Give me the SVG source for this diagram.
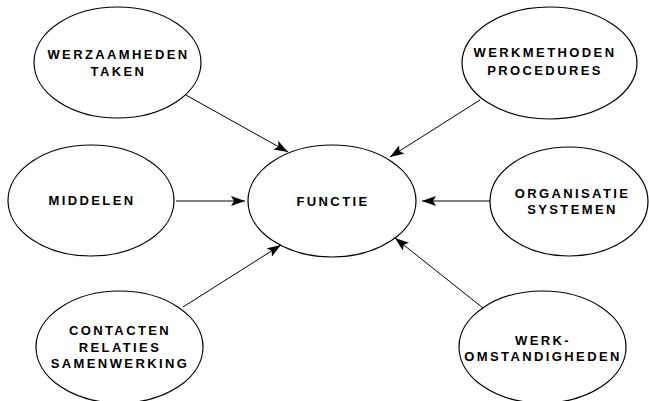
<svg xmlns="http://www.w3.org/2000/svg" width="649" height="401" viewBox="0 0 649 401">
<defs>
<marker id="ah" viewBox="0 0 14 10" refX="14" refY="5" markerWidth="14" markerHeight="10" markerUnits="userSpaceOnUse" orient="auto">
<path d="M0,0 L14,5 L0,10 L3,5 Z" fill="#000"/>
</marker>
<style>
.n ellipse{fill:#fff;stroke:#000;stroke-width:1.2}
.n text{font-family:"Liberation Sans",Arial,sans-serif;font-weight:bold;font-size:13px;letter-spacing:2.4px;text-anchor:middle;fill:#000}
.c line{stroke:#000;stroke-width:1;marker-end:url(#ah)}
</style>
</defs>
<rect width="649" height="401" fill="#fff"/>
<g class="c" id="connectors">
<line x1="184" y1="94" x2="288" y2="152"/>
<line x1="480" y1="100" x2="390" y2="157"/>
<line x1="176" y1="201" x2="245" y2="201"/>
<line x1="490" y1="201" x2="422" y2="201"/>
<line x1="183" y1="307" x2="281" y2="245"/>
<line x1="483" y1="308" x2="395" y2="238"/>
</g>
<g class="n" id="werzaamheden">
<ellipse cx="117.5" cy="62.5" rx="83.5" ry="55.5"/>
<text x="118.5" y="58.5">WERZAAMHEDEN</text>
<text x="118.5" y="75.5">TAKEN</text>
</g>
<g class="n" id="werkmethoden">
<ellipse cx="549.5" cy="63" rx="87.5" ry="56"/>
<text x="545" y="57">WERKMETHODEN</text>
<text x="545" y="75">PROCEDURES</text>
</g>
<g class="n" id="middelen">
<ellipse cx="91" cy="200.5" rx="83" ry="55.5"/>
<text x="92" y="205">MIDDELEN</text>
</g>
<g class="n" id="functie">
<ellipse cx="332" cy="201" rx="84" ry="56"/>
<text x="333" y="206">FUNCTIE</text>
</g>
<g class="n" id="organisatie">
<ellipse cx="569" cy="201.5" rx="79" ry="54.5"/>
<text x="572.5" y="198">ORGANISATIE</text>
<text x="572.5" y="214">SYSTEMEN</text>
</g>
<g class="n" id="contacten">
<ellipse cx="119.5" cy="347" rx="83.5" ry="56"/>
<text x="120" y="335">CONTACTEN</text>
<text x="120" y="351.5">RELATIES</text>
<text x="120" y="368">SAMENWERKING</text>
</g>
<g class="n" id="werkomstandigheden">
<ellipse cx="542.5" cy="347" rx="83.5" ry="56"/>
<text x="543" y="345">WERK-</text>
<text x="543" y="361">OMSTANDIGHEDEN</text>
</g>
</svg>
